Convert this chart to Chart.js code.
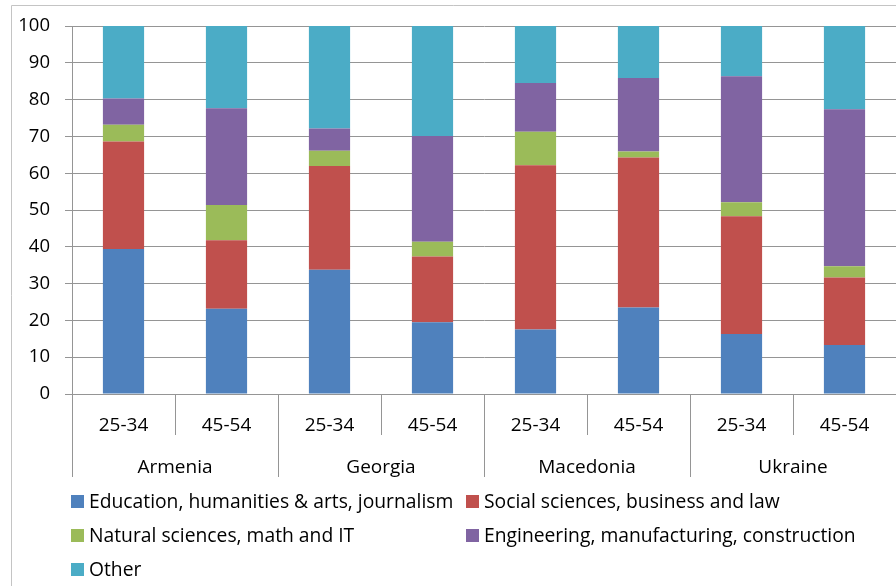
<!DOCTYPE html>
<html>
<head>
<meta charset="utf-8">
<script src="https://cdn.jsdelivr.net/npm/chart.js@4"></script>
<style>
  html, body { margin: 0; padding: 0; background: #fff; }
  #wrap { width: 896px; height: 586px; position: relative; }
</style>
</head>
<body>
<div id="wrap"><canvas id="c" width="896" height="586"></canvas></div>
<script>
// Age groups within each country
const ageGroups = ['25-34', '45-54', '25-34', '45-54', '25-34', '45-54', '25-34', '45-54'];
const countries = ['Armenia', 'Georgia', 'Macedonia', 'Ukraine'];
const yTicks = [0, 10, 20, 30, 40, 50, 60, 70, 80, 90, 100];

// Share of graduates by field of study (%)
const education   = [39.4, 23.2, 33.8, 19.5, 17.5, 23.5, 16.3, 13.3];
const social      = [29.2, 18.6, 28.2, 17.9, 44.7, 40.8, 32.0, 18.4];
const natural     = [4.6,  9.6,  4.1,  4.0,  9.1,  1.6,  3.8,  3.0];
const engineering = [7.1,  26.3, 6.1,  28.7, 13.2, 20.0, 34.3, 42.7];
const other       = [19.7, 22.3, 27.8, 29.9, 15.5, 14.1, 13.6, 22.6];

const seriesNames = [
  'Education, humanities & arts, journalism',
  'Social sciences, business and law',
  'Natural sciences, math and IT',
  'Engineering, manufacturing, construction',
  'Other'
];
const seriesColors = ['#4F81BD', '#C0504D', '#9BBB59', '#8064A2', '#4BACC6'];
const seriesData = [education, social, natural, engineering, other];

const FONT = '"Open Sans"';
const AXIS_GRAY = '#959595';

// Outer frame, category separators, country labels and the two-column legend
const groupAxisPlugin = {
  id: 'groupAxis',
  beforeDraw(chart) {
    const ctx = chart.ctx;
    ctx.save();
    ctx.strokeStyle = '#c4c4c4';
    ctx.lineWidth = 1;
    ctx.beginPath();
    ctx.moveTo(11.5, 586);
    ctx.lineTo(11.5, 5.5);
    ctx.lineTo(896, 5.5);
    ctx.stroke();
    ctx.restore();
  },
  afterDraw(chart) {
    const ctx = chart.ctx;
    const xs = chart.scales.x;
    const n = ageGroups.length;
    const w = (xs.right - xs.left) / n;
    const top = xs.top;
    ctx.save();
    ctx.strokeStyle = AXIS_GRAY;
    ctx.lineWidth = 1;
    for (let k = 0; k <= n; k++) {
      const x = Math.round(xs.left + k * w) + 0.5;
      const long = k % 2 === 0;
      ctx.beginPath();
      ctx.moveTo(x, top);
      ctx.lineTo(x, top + (long ? 83 : 41));
      ctx.stroke();
    }
    ctx.fillStyle = '#000';
    ctx.font = '19px ' + FONT;
    ctx.textAlign = 'center';
    ctx.textBaseline = 'alphabetic';
    countries.forEach((name, g) => {
      ctx.fillText(name, xs.left + (2 * g + 1) * w, top + 79);
    });

    // legend: box left edge, row baseline
    const pos = [[71, 508], [466, 508], [71, 542], [466, 542], [71, 576]];
    ctx.font = '19.3px ' + FONT;
    ctx.textAlign = 'left';
    chart.data.datasets.forEach((ds, i) => {
      const [bx, base] = pos[i];
      ctx.fillStyle = ds.backgroundColor;
      ctx.fillRect(bx, base - 13, 13, 13);
      ctx.fillStyle = '#000';
      ctx.fillText(ds.label, bx + 18, base);
    });
    ctx.restore();
  }
};

new Chart(document.getElementById('c'), {
  type: 'bar',
  data: {
    labels: ageGroups,
    datasets: seriesNames.map((name, i) => ({
      label: name,
      data: seriesData[i],
      backgroundColor: seriesColors[i],
      borderWidth: 0,
      barPercentage: 0.4,
      categoryPercentage: 1.0
    }))
  },
  options: {
    responsive: false,
    animation: false,
    devicePixelRatio: 1,
    layout: { padding: { top: 25, right: 0, bottom: 0, left: 0 } },
    plugins: {
      legend: { display: false },
      title: { display: false },
      tooltip: { enabled: false }
    },
    scales: {
      x: {
        stacked: true,
        grid: { display: false, drawTicks: false },
        border: { display: true, color: AXIS_GRAY, width: 1 },
        ticks: { color: '#000', font: { family: FONT, size: 19 }, padding: 20, maxRotation: 0, autoSkip: false },
        afterFit(scale) { scale.height = 192; }
      },
      y: {
        stacked: true,
        min: 0,
        max: 100,
        afterBuildTicks(scale) { scale.ticks = yTicks.map(v => ({ value: v })); },
        grid: { color: AXIS_GRAY, lineWidth: 1, drawTicks: true, tickLength: 7 },
        border: { display: true, color: AXIS_GRAY, width: 1 },
        ticks: { color: '#000', font: { family: FONT, size: 18.5 }, padding: 15 },
        afterFit(scale) { scale.width = 72; }
      }
    }
  },
  plugins: [groupAxisPlugin]
});
</script>
</body>
</html>
